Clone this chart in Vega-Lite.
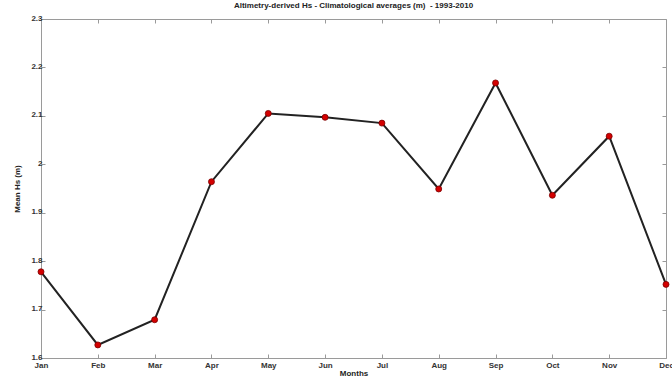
{
  "$schema": "https://vega.github.io/schema/vega-lite/v6.json",
  "width": 625,
  "height": 339,
  "autosize": {"type": "none"},
  "padding": {"left": 41, "top": 19, "right": 6, "bottom": 21},
  "background": "white",
  "title": {
    "text": "Altimetry-derived Hs - Climatological averages (m) \u00a0- 1993-2010",
    "fontSize": 8,
    "fontWeight": "bold",
    "font": "Liberation Sans",
    "color": "#222",
    "offset": 4
  },
  "data": {
    "values": [
      {"month": "Jan", "hs": 1.778},
      {"month": "Feb", "hs": 1.627},
      {"month": "Mar", "hs": 1.679},
      {"month": "Apr", "hs": 1.964},
      {"month": "May", "hs": 2.105},
      {"month": "Jun", "hs": 2.097},
      {"month": "Jul", "hs": 2.085},
      {"month": "Aug", "hs": 1.949},
      {"month": "Sep", "hs": 2.168},
      {"month": "Oct", "hs": 1.936},
      {"month": "Nov", "hs": 2.058},
      {"month": "Dec", "hs": 1.752}
    ]
  },
  "layer": [
    {
      "mark": {"type": "line", "color": "#222", "strokeWidth": 2},
      "encoding": {
        "x": {
          "field": "month", "type": "ordinal", "sort": null,
          "scale": {"type": "point", "padding": 0},
          "axis": {"title": "Months", "labelAngle": 0, "orient": "bottom", "labelPadding": 7, "titlePadding": 0}
        },
        "y": {
          "field": "hs", "type": "quantitative",
          "scale": {"domain": [1.6, 2.3], "nice": false, "zero": false},
          "axis": {"title": "Mean Hs (m)", "orient": "left", "values": [1.6, 1.7, 1.8, 1.9, 2.0, 2.1, 2.2, 2.3], "format": ".1~f", "titlePadding": 9, "labelOffset": -1}
        }
      }
    },
    {
      "mark": {"type": "point", "filled": true, "fill": "#d40000", "stroke": "#7a0000", "strokeWidth": 0.8, "size": 36, "opacity": 1},
      "encoding": {
        "x": {"field": "month", "type": "ordinal", "sort": null, "axis": null},
        "y": {"field": "hs", "type": "quantitative", "axis": null}
      }
    },
    {
      "mark": {"type": "point", "opacity": 0},
      "encoding": {
        "x": {"field": "month", "type": "ordinal", "sort": null, "axis": {"orient": "top", "labels": false, "title": null}},
        "y": {"field": "hs", "type": "quantitative", "axis": {"orient": "right", "labels": false, "title": null, "values": [1.6, 1.7, 1.8, 1.9, 2.0, 2.1, 2.2, 2.3]}}
      }
    }
  ],
  "resolve": {"axis": {"x": "independent", "y": "independent"}},
  "config": {
    "view": {"stroke": "#9a9a9a", "strokeWidth": 1},
    "axis": {
      "domain": false,
      "grid": false,
      "tickColor": "#9a9a9a",
      "tickSize": -4,
      "labelFont": "Liberation Sans",
      "labelFontSize": 8,
      "labelFontWeight": "bold",
      "labelColor": "#333",
      "labelPadding": 3,
      "titleFont": "Liberation Sans",
      "titleFontSize": 8,
      "titleFontWeight": "bold",
      "titleColor": "#222"
    }
  }
}
